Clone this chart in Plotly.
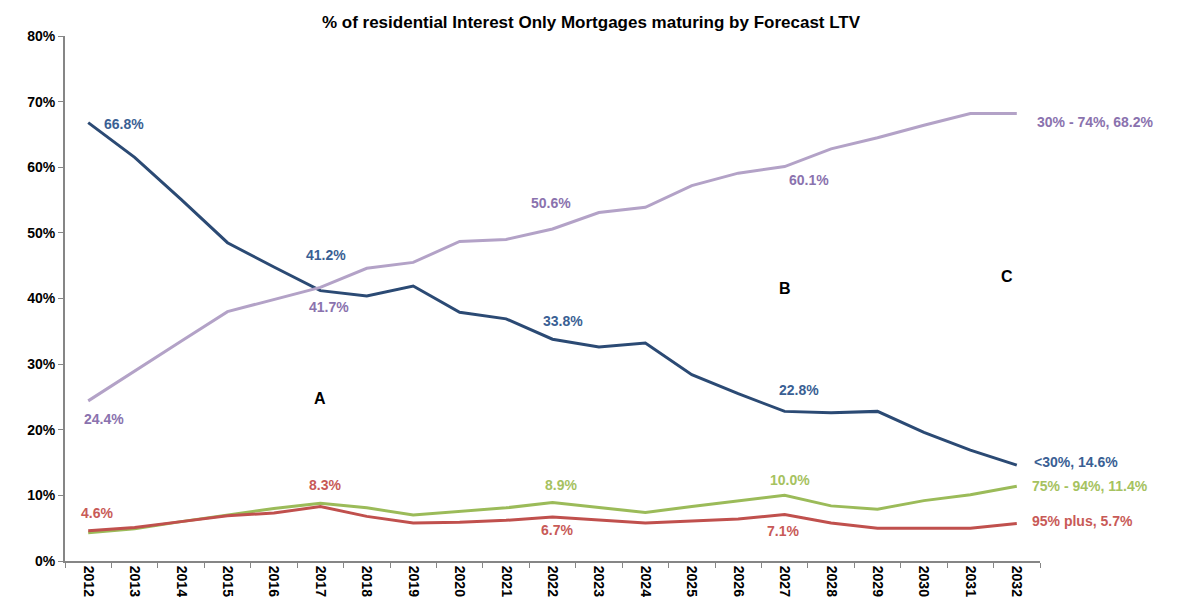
import plotly.graph_objects as go

years = [str(y) for y in range(2012, 2033)]

lt30 = [66.8, 61.5, 55.1, 48.5, 44.8, 41.2, 40.4, 41.9, 37.9, 36.9, 33.8, 32.6,
        33.2, 28.4, 25.5, 22.8, 22.6, 22.8, 19.6, 16.9, 14.6]
mid30_74 = [24.4, 29.0, 33.5, 38.0, 39.9, 41.7, 44.6, 45.5, 48.7, 49.0, 50.6, 53.1,
            53.9, 57.2, 59.1, 60.1, 62.8, 64.5, 66.4, 68.2, 68.2]
mid75_94 = [4.3, 4.9, 6.0, 7.0, 8.0, 8.8, 8.1, 7.0, 7.6, 8.1, 8.9, 8.1,
            7.4, 8.3, 9.1, 10.0, 8.4, 7.9, 9.2, 10.1, 11.4]
plus95 = [4.6, 5.1, 6.0, 6.9, 7.3, 8.3, 6.8, 5.8, 5.9, 6.2, 6.7, 6.3,
          5.8, 6.1, 6.4, 7.1, 5.8, 5.0, 5.0, 5.0, 5.7]

series_names = ["<30%", "30% - 74%", "75% - 94%", "95% plus"]
series_values = [lt30, mid30_74, mid75_94, plus95]
line_colors = ["#2B4A74", "#B3A2C7", "#9BBB59", "#C0504D"]
label_colors = ["#3A5F94", "#8A72AE", "#A6C25F", "#C85A57"]

# indices of points carrying a value label (end point gets "name, value")
label_idx = [[0, 5, 10, 15], [0, 5, 10, 15], [10, 15], [0, 5, 10, 15]]
# (xshift, yshift, anchor) for those labels
label_shift = [
    [(14, -1, "left"), (6, 36, "center"), (10, 18, "center"), (14, 21, "center")],
    [(16, -18, "center"), (9, -20, "center"), (-2, 26, "center"), (24, -13, "center")],
    [(8, 18, "center"), (5, 15, "center")],
    [(9, 18, "center"), (5, 22, "center"), (4, -13, "center"), (-2, -17, "center")],
]
end_shift = [(15, 3), (18, -9), (13, 0), (13, 3)]

region_letters = ["A", "B", "C"]
region_pos = [("2017", 24.7), ("2027", 41.5), ("2032", 43.3)]
region_xshift = [0, 0, -10]

fig = go.Figure()
for name, vals, col in zip(series_names, series_values, line_colors):
    fig.add_trace(go.Scatter(x=years, y=vals, mode="lines", name=name,
                             line=dict(color=col, width=3), showlegend=False))

annotations = []
font_fam = "Liberation Sans, Arial, sans-serif"
for s, (name, vals) in enumerate(zip(series_names, series_values)):
    for i, (xs, ys, anc) in zip(label_idx[s], label_shift[s]):
        annotations.append(dict(
            x=i, y=vals[i], xref="x", yref="y", text=f"{vals[i]:.1f}%",
            showarrow=False, xanchor=anc, yanchor="middle", xshift=xs, yshift=ys,
            font=dict(family=font_fam, size=14, color=label_colors[s], weight="bold")))
    xs, ys = end_shift[s]
    annotations.append(dict(
        x=len(years) - 1, y=vals[-1], xref="x", yref="y", text=f"{name}, {vals[-1]:.1f}%",
        showarrow=False, xanchor="left", yanchor="middle", xshift=xs, yshift=ys,
        font=dict(family=font_fam, size=14, color=label_colors[s], weight="bold")))

for letter, (xx, yy), xsh in zip(region_letters, region_pos, region_xshift):
    annotations.append(dict(
        x=years.index(xx), y=yy, xref="x", yref="y", text=letter, showarrow=False,
        xanchor="center", yanchor="middle", xshift=xsh,
        font=dict(family=font_fam, size=16, color="#000000", weight="bold")))

W, H = 1179, 607
fig.update_layout(
    width=W, height=H,
    margin=dict(l=57, r=147, t=28, b=54),
    paper_bgcolor="white", plot_bgcolor="white",
    title=dict(text="% of residential Interest Only Mortgages maturing by Forecast LTV",
               x=(590 - 7) / W, xanchor="center", y=1 - 14 / H, yanchor="middle",
               font=dict(family=font_fam, size=17, color="#000000", weight="bold")),
    annotations=annotations,
    xaxis=dict(type="category", tickson="boundaries", ticks="outside", ticklen=5,
               range=[-0.5, len(years) - 0.5], autorange=False,
               tickcolor="#868686", showline=True, linecolor="#868686", linewidth=2,
               showgrid=False, tickangle=90, zeroline=False,
               tickfont=dict(family=font_fam, size=14, color="#000000", weight="bold")),
    yaxis=dict(range=[0, 80], dtick=10, ticksuffix="%", ticks="outside", ticklen=5,
               tickcolor="#868686", showline=True, linecolor="#868686", linewidth=2,
               showgrid=False, zeroline=False,
               tickfont=dict(family=font_fam, size=14, color="#000000", weight="bold")),
)

fig.write_html("out.html")
